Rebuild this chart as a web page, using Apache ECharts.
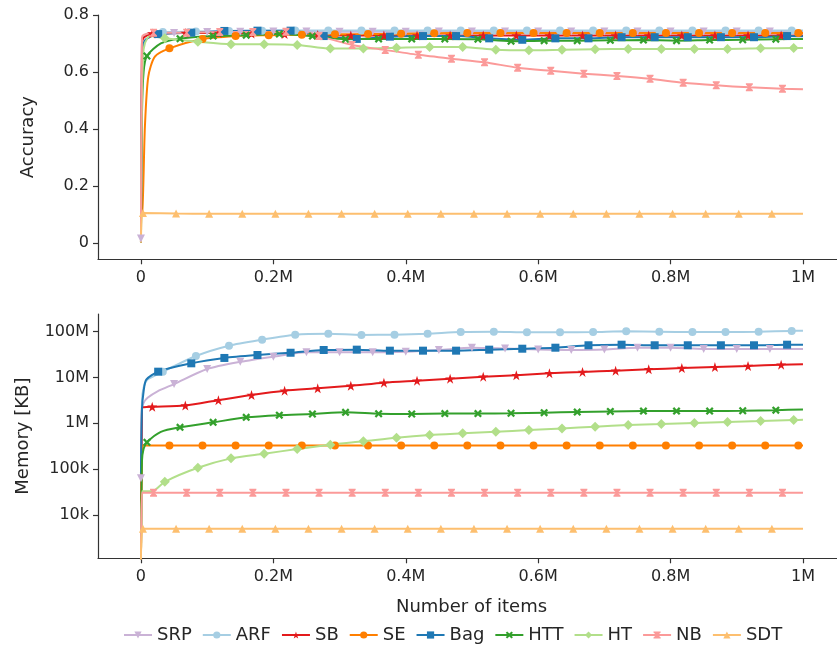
<!DOCTYPE html>
<html><head><meta charset="utf-8">
<script src="https://cdn.jsdelivr.net/npm/echarts@6/dist/echarts.min.js"></script>
<style>html,body{margin:0;padding:0;background:#fff}#c{width:837px;height:655px}</style>
</head><body><div id="c"></div><script>
// x values in thousands of items
const X_TICKS = [0, 200, 400, 600, 800, 1000];
const ACC_TICKS = [0, 0.2, 0.4, 0.6, 0.8];
const MEM_TICKS = [1e4, 1e5, 1e6, 1e7, 1e8];
const MEM_TICK_LABELS = ['10k', '100k', '1M', '10M', '100M'];

const NAMES = ['SRP', 'ARF', 'SB', 'SE', 'Bag', 'HTT', 'HT', 'NB', 'SDT'];
const COLORS = ['#cab2d6', '#a6cee3', '#e31a1c', '#ff7f00', '#1f78b4', '#33a02c', '#b2df8a', '#fb9a99', '#fdbf6f'];
const MARK_OFFSET = [0, 33, 17, 43, 26, 9, 36, 19, 3];

const SRP_X   = [0, 1.5, 4, 10, 25, 50, 100, 150, 200, 250, 300, 350, 400, 450, 500, 550, 600, 650, 700, 750, 800, 850, 900, 950, 1000];
const SRP_ACC = [0.015, 0.70, 0.725, 0.73, 0.734, 0.737, 0.740, 0.741, 0.742, 0.742, 0.741, 0.741, 0.741, 0.742, 0.742, 0.742, 0.742, 0.742, 0.742, 0.742, 0.742, 0.742, 0.742, 0.742, 0.742];
const SRP_MEM = [63e3, 2.0e6, 2.8e6, 3.6e6, 5.0e6, 7.2e6, 15.3e6, 22e6, 28.5e6, 35.5e6, 35.5e6, 35.5e6, 36.6e6, 39.8e6, 44.7e6, 43e6, 41e6, 40e6, 41e6, 44.7e6, 44.7e6, 42e6, 42e6, 42e6, 42e6];

const ARF_X   = [0, 1.5, 4, 10, 33, 83, 133, 183, 233, 283, 333, 383, 433, 483, 533, 583, 633, 683, 733, 783, 833, 883, 933, 983, 1000];
const ARF_ACC = [0.0, 0.70, 0.725, 0.735, 0.740, 0.742, 0.744, 0.745, 0.746, 0.746, 0.746, 0.746, 0.746, 0.746, 0.746, 0.746, 0.746, 0.746, 0.746, 0.746, 0.746, 0.746, 0.746, 0.746, 0.746];
const ARF_MEM = [60e3, 3e6, 6e6, 9e6, 13.4e6, 29.5e6, 49.5e6, 67e6, 86e6, 90e6, 85e6, 86e6, 90.6e6, 98e6, 100e6, 97e6, 97e6, 98e6, 102e6, 100e6, 98e6, 98e6, 100e6, 104e6, 105e6];

const SB_X   = [0, 1.5, 4, 17, 67, 117, 167, 217, 267, 317, 367, 417, 467, 517, 567, 617, 667, 717, 767, 817, 867, 917, 967, 1000];
const SB_ACC = [0.0, 0.70, 0.72, 0.735, 0.737, 0.737, 0.735, 0.733, 0.730, 0.728, 0.728, 0.728, 0.728, 0.728, 0.728, 0.728, 0.728, 0.728, 0.728, 0.728, 0.728, 0.728, 0.728, 0.728];
const SB_MEM = [1e3, 2.2e6, 2.25e6, 2.3e6, 2.45e6, 3.2e6, 4.15e6, 5.15e6, 5.8e6, 6.6e6, 7.7e6, 8.5e6, 9.4e6, 10.4e6, 11.2e6, 12.4e6, 13.2e6, 14.1e6, 15.1e6, 16.1e6, 16.9e6, 17.8e6, 19e6, 19.5e6];

const SE_X   = [0, 2, 3.5, 6, 11, 21, 43, 93, 143, 193, 243, 293, 343, 393, 443, 493, 543, 593, 643, 693, 743, 793, 843, 893, 943, 993, 1000];
const SE_ACC = [0.1, 0.11, 0.2, 0.41, 0.583, 0.654, 0.683, 0.716, 0.726, 0.729, 0.731, 0.732, 0.733, 0.734, 0.736, 0.737, 0.737, 0.737, 0.737, 0.737, 0.737, 0.737, 0.737, 0.737, 0.737, 0.737, 0.737];
const SE_MEM = [1e3, 330e3, 330e3, 330e3, 330e3, 330e3, 330e3, 330e3, 330e3, 330e3, 330e3, 330e3, 330e3, 330e3, 330e3, 330e3, 330e3, 330e3, 330e3, 330e3, 330e3, 330e3, 330e3, 330e3, 330e3, 330e3, 330e3];

const BAG_X   = [0, 1.5, 4, 8, 26, 76, 126, 176, 226, 276, 326, 376, 426, 476, 526, 576, 626, 676, 726, 776, 826, 876, 926, 976, 1000];
const BAG_ACC = [0.01, 0.6, 0.7, 0.715, 0.733, 0.738, 0.744, 0.745, 0.745, 0.726, 0.716, 0.724, 0.726, 0.726, 0.718, 0.713, 0.718, 0.718, 0.722, 0.722, 0.722, 0.722, 0.722, 0.726, 0.725];
const BAG_MEM = [80e3, 2e6, 5e6, 9e6, 13.4e6, 20.4e6, 26.7e6, 31e6, 34.7e6, 39.8e6, 40.5e6, 38.5e6, 38.5e6, 38.5e6, 40.5e6, 42.5e6, 44.7e6, 50.5e6, 52e6, 50.5e6, 50.5e6, 50.5e6, 50.5e6, 52e6, 52e6];

const HTT_X   = [0, 1.5, 4, 9, 30, 59, 109, 159, 209, 259, 309, 359, 409, 459, 509, 559, 609, 659, 709, 759, 809, 859, 909, 959, 1000];
const HTT_ACC = [0.0, 0.45, 0.6, 0.656, 0.70, 0.717, 0.726, 0.729, 0.733, 0.726, 0.715, 0.716, 0.716, 0.716, 0.715, 0.708, 0.71, 0.71, 0.711, 0.712, 0.71, 0.712, 0.713, 0.715, 0.716];
const HTT_MEM = [1e3, 150e3, 280e3, 385e3, 650e3, 817e3, 1.05e6, 1.35e6, 1.51e6, 1.6e6, 1.74e6, 1.62e6, 1.6e6, 1.63e6, 1.63e6, 1.66e6, 1.71e6, 1.76e6, 1.82e6, 1.85e6, 1.85e6, 1.85e6, 1.88e6, 1.94e6, 2.0e6];

const HT_X   = [0, 1.5, 4, 10, 17, 36, 86, 136, 186, 236, 286, 336, 386, 436, 486, 536, 586, 636, 686, 736, 786, 836, 886, 936, 986, 1000];
const HT_ACC = [0.1, 0.5, 0.68, 0.72, 0.725, 0.718, 0.706, 0.697, 0.697, 0.695, 0.682, 0.682, 0.685, 0.688, 0.688, 0.678, 0.676, 0.678, 0.68, 0.681, 0.681, 0.681, 0.681, 0.683, 0.684, 0.684];
const HT_MEM = [1e3, 33e3, 33e3, 33e3, 33e3, 53e3, 107e3, 172e3, 217e3, 275e3, 341e3, 405e3, 486e3, 556e3, 605e3, 656e3, 714e3, 776e3, 843e3, 918e3, 966e3, 1.016e6, 1.067e6, 1.12e6, 1.18e6, 1.19e6];

const NB_X   = [0, 1.5, 4, 19, 69, 119, 169, 219, 250, 269, 319, 369, 419, 469, 519, 569, 619, 669, 719, 769, 819, 869, 919, 969, 1000];
const NB_ACC = [0.01, 0.72, 0.73, 0.738, 0.738, 0.740, 0.740, 0.741, 0.740, 0.726, 0.695, 0.677, 0.66, 0.6465, 0.634, 0.615, 0.604, 0.594, 0.586, 0.576, 0.562, 0.553, 0.546, 0.541, 0.539];
const NB_MEM = [1e3, 30.5e3, 30.5e3, 30.5e3, 30.5e3, 30.5e3, 30.5e3, 30.5e3, 30.5e3, 30.5e3, 30.5e3, 30.5e3, 30.5e3, 30.5e3, 30.5e3, 30.5e3, 30.5e3, 30.5e3, 30.5e3, 30.5e3, 30.5e3, 30.5e3, 30.5e3, 30.5e3, 30.5e3];

const SDT_X   = [0, 3, 53, 103, 153, 203, 253, 303, 353, 403, 453, 503, 553, 603, 653, 703, 753, 803, 853, 903, 953, 1000];
const SDT_ACC = [0.0, 0.105, 0.103, 0.102, 0.102, 0.102, 0.102, 0.102, 0.102, 0.102, 0.102, 0.102, 0.102, 0.102, 0.102, 0.102, 0.102, 0.102, 0.102, 0.102, 0.102, 0.102];
const SDT_MEM = [1e3, 5e3, 5e3, 5e3, 5e3, 5e3, 5e3, 5e3, 5e3, 5e3, 5e3, 5e3, 5e3, 5e3, 5e3, 5e3, 5e3, 5e3, 5e3, 5e3, 5e3, 5e3];

const ALL_X   = [SRP_X, ARF_X, SB_X, SE_X, BAG_X, HTT_X, HT_X, NB_X, SDT_X];
const ALL_ACC = [SRP_ACC, ARF_ACC, SB_ACC, SE_ACC, BAG_ACC, HTT_ACC, HT_ACC, NB_ACC, SDT_ACC];
const ALL_MEM = [SRP_MEM, ARF_MEM, SB_MEM, SE_MEM, BAG_MEM, HTT_MEM, HT_MEM, NB_MEM, SDT_MEM];

const SYMBOLS = [
  'path://M0,0L10,0L5,9Z',
  'circle',
  'path://M50,0L61.8,35.5L100,35.5L69.1,57.4L80.9,93L50,71L19.1,93L30.9,57.4L0,35.5L38.2,35.5Z',
  'circle',
  'rect',
  'path://M2,0L5,3L8,0L10,2L7,5L10,8L8,10L5,7L2,10L0,8L3,5L0,2Z',
  'diamond',
  'path://M0,0L10,0L10,1.5L6.2,5L10,8.5L10,10L0,10L0,8.5L3.8,5L0,1.5Z',
  'triangle'
];
const SYMBOL_SIZES = [8, 8, 10, 8, 8, 8, 10, [7, 8], 8];

const FONT = 'DejaVu Sans';
const TXT = '#262626';
const AX = '#333333';

function isMark(x, off) {
  if (x >= 1000) return false;
  const r = (((x - off) % 50) + 50) % 50;
  return Math.abs(r) < 1e-6 || Math.abs(r - 50) < 1e-6;
}

function xAxisCfg(gi, withName) {
  const a = {
    type: 'value', gridIndex: gi, min: -64.9, max: 1051.4,
    axisLine: { show: true, onZero: false, lineStyle: { color: AX, width: 1.2 } },
    axisTick: { show: true, customValues: X_TICKS, length: 5, lineStyle: { color: AX, width: 1.2 } },
    axisLabel: { customValues: X_TICKS, fontSize: 16, fontFamily: FONT, color: TXT, margin: 11,
      formatter: v => v === 0 ? '0' : (v / 1000) + 'M' },
    splitLine: { show: false }
  };
  if (withName) {
    a.name = 'Number of items';
    a.nameLocation = 'middle';
    a.nameGap = 40;
    a.nameTextStyle = { fontSize: 18, fontFamily: FONT, color: TXT, padding: [0, 0, 0, 8] };
  }
  return a;
}

const series = [];
for (let i = 0; i < NAMES.length; i++) {
  const base = {
    type: 'line', name: NAMES[i], symbol: SYMBOLS[i], symbolSize: SYMBOL_SIZES[i],
    showSymbol: true, showAllSymbol: true, smooth: 0.25, animation: false,
    lineStyle: { color: COLORS[i], width: 2 }, itemStyle: { color: COLORS[i] },
    emphasis: { disabled: true }
  };
  const mk = (x, y) => isMark(x, MARK_OFFSET[i]) ? { value: [x, y] } : { value: [x, y], symbol: 'none' };
  series.push(Object.assign({}, base, { xAxisIndex: 0, yAxisIndex: 0,
    data: ALL_X[i].map((x, j) => mk(x, ALL_ACC[i][j])) }));
  series.push(Object.assign({}, base, { xAxisIndex: 1, yAxisIndex: 1,
    data: ALL_X[i].map((x, j) => mk(x, ALL_MEM[i][j])) }));
}

const chart = echarts.init(document.getElementById('c'), null, { renderer: 'canvas' });
chart.setOption({
  animation: false,
  backgroundColor: '#ffffff',
  grid: [
    { left: 98, top: 15, width: 739, height: 244.3, containLabel: false },
    { left: 98, top: 314, width: 739, height: 244.3, containLabel: false }
  ],
  xAxis: [xAxisCfg(0, false), xAxisCfg(1, true)],
  yAxis: [
    { type: 'value', gridIndex: 0, min: -0.058, max: 0.8,
      axisLine: { show: true, onZero: false, lineStyle: { color: AX, width: 1.2 } },
      axisTick: { show: true, customValues: ACC_TICKS, length: 5, lineStyle: { color: AX, width: 1.2 } },
      axisLabel: { customValues: ACC_TICKS, fontSize: 16, fontFamily: FONT, color: TXT, margin: 9,
        formatter: v => v === 0 ? '0' : String(v) },
      splitLine: { show: false },
      name: 'Accuracy', nameLocation: 'middle', nameGap: 61, nameRotate: 90,
      nameTextStyle: { fontSize: 18, fontFamily: FONT, color: TXT } },
    { type: 'log', gridIndex: 1, min: 1135, max: 2.43e8, logBase: 10,
      axisLine: { show: true, onZero: false, lineStyle: { color: AX, width: 1.2 } },
      axisTick: { show: true, customValues: MEM_TICKS, length: 5, lineStyle: { color: AX, width: 1.2 } },
      axisLabel: { customValues: MEM_TICKS, fontSize: 16, fontFamily: FONT, color: TXT, margin: 9,
        formatter: v => MEM_TICK_LABELS[Math.round(Math.log10(v)) - 4] },
      minorTick: { show: false },
      splitLine: { show: false },
      name: 'Memory [KB]', nameLocation: 'middle', nameGap: 66, nameRotate: 90,
      nameTextStyle: { fontSize: 18, fontFamily: FONT, color: TXT } }
  ],
  legend: {
    data: NAMES, left: 118, top: 621, itemWidth: 28, itemHeight: 9, itemGap: 10,
    textStyle: { fontSize: 18, fontFamily: FONT, color: TXT }
  },
  series: series
});
</script></body></html>
